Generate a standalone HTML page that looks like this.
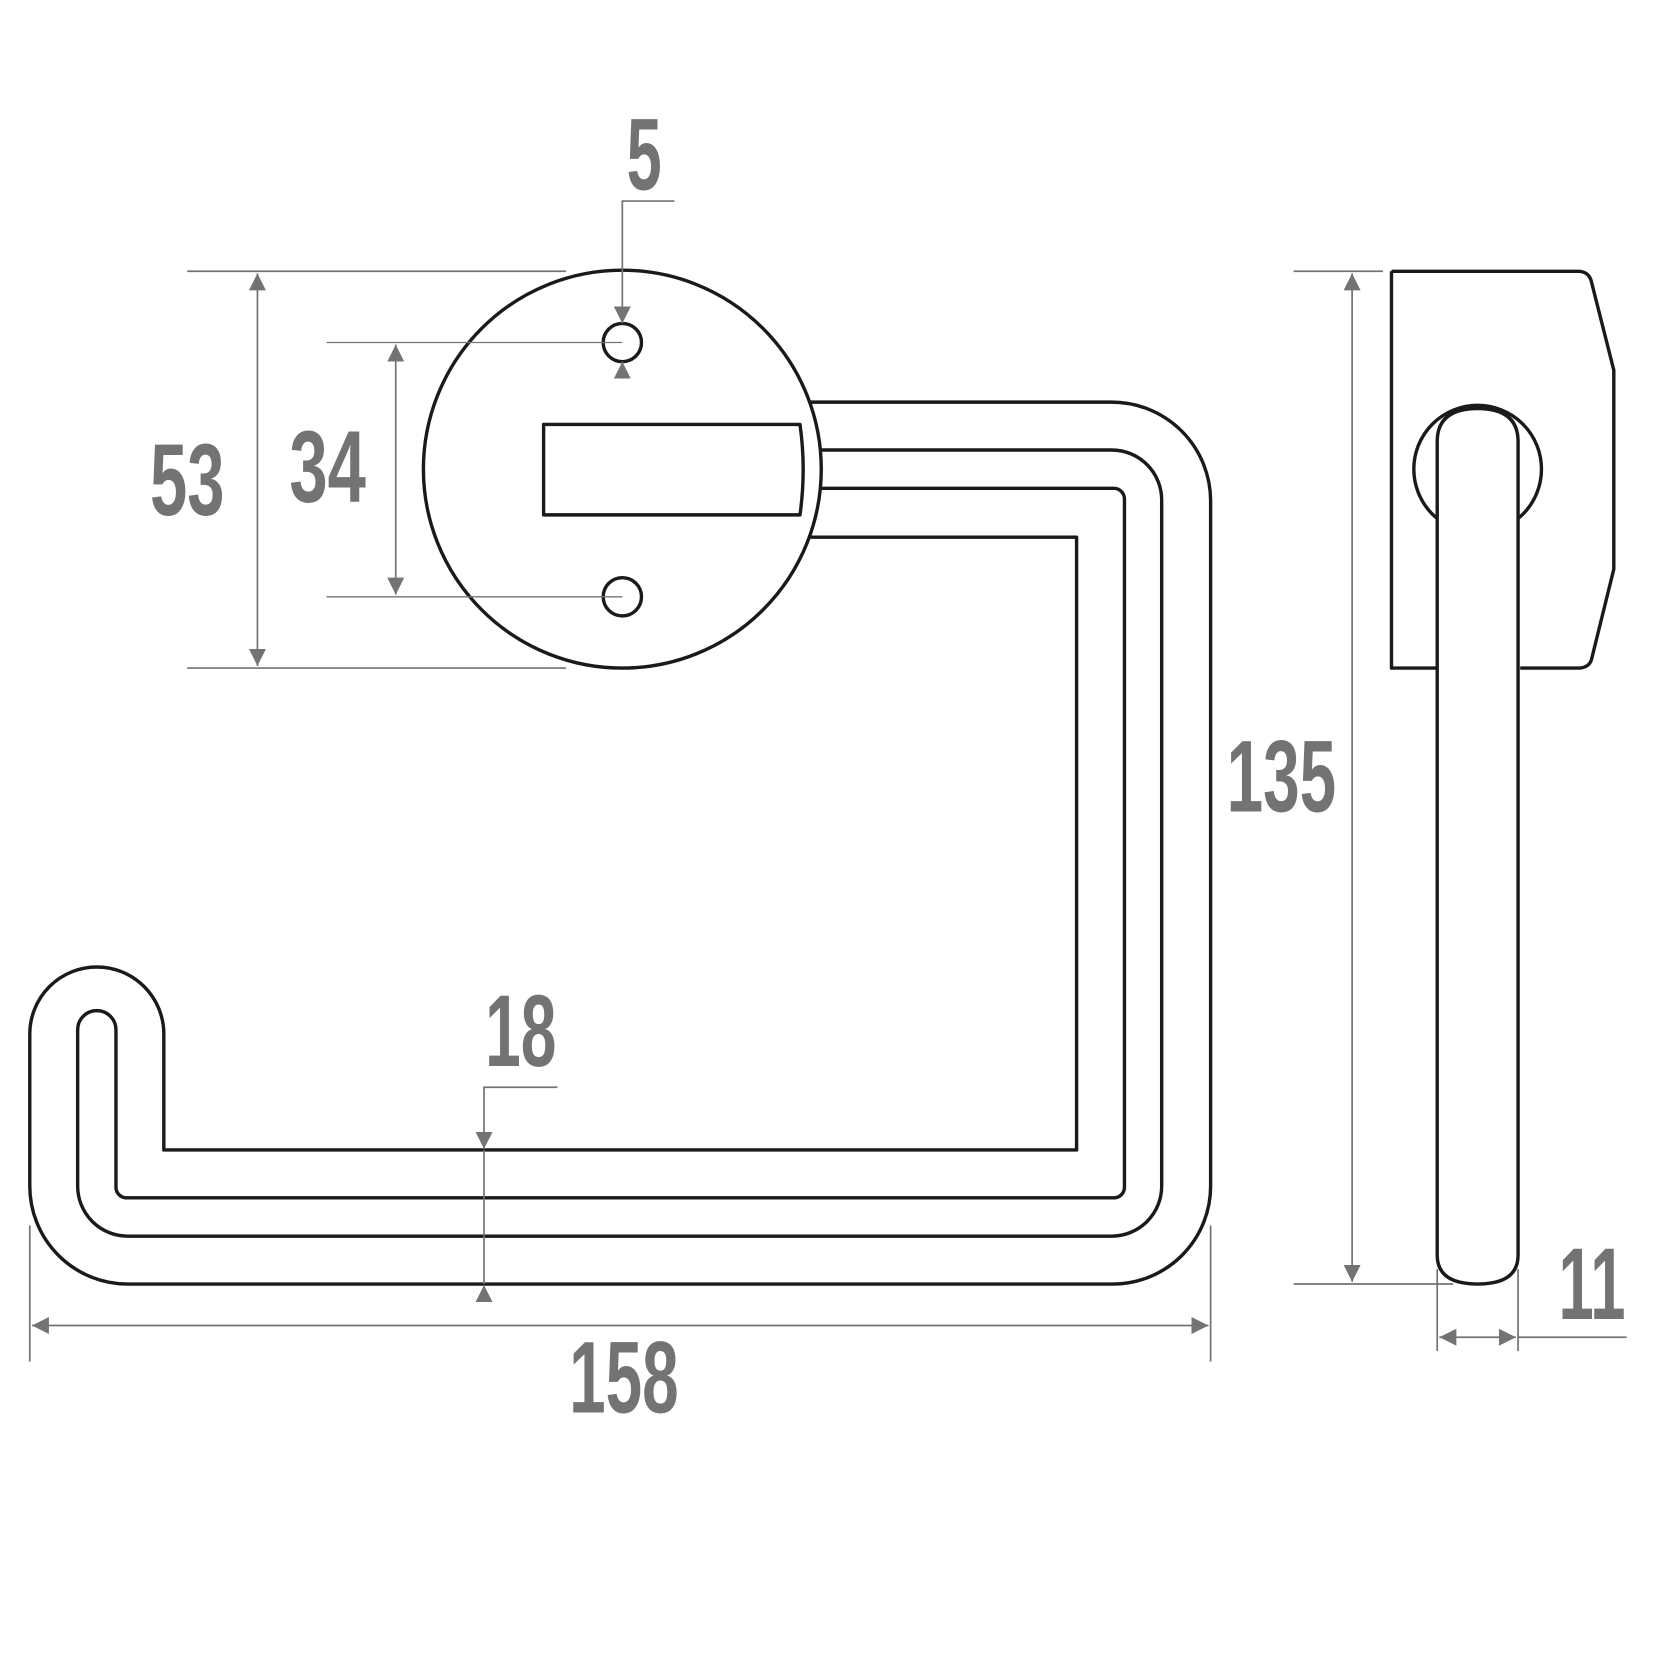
<!DOCTYPE html>
<html><head><meta charset="utf-8"><style>html,body{margin:0;padding:0;background:#fff}svg{display:block}</style></head>
<body>
<svg width="1667" height="1667" viewBox="0 0 1567 1567" xmlns="http://www.w3.org/2000/svg">
<defs>
<marker id="a" viewBox="0 0 10 10" refX="10" refY="5" markerWidth="16" markerHeight="16" markerUnits="userSpaceOnUse" orient="auto-start-reverse"><path d="M0,0 L10,5 L0,10 z" fill="#737373"/></marker>
</defs>
<g fill="none" stroke="#1a1a1a" stroke-width="3.2" stroke-linejoin="round">
<path d="M762,378 L1045,378 A93,93 0 0 1 1138,471 L1138,1115 A92,92 0 0 1 1046,1207 L120,1207 A92,92 0 0 1 28,1115 L28,972 A63,63 0 0 1 154,972 L154,1081 L1012,1081 L1012,505 L762,505"/>
<path d="M772,423 L1045,423 A47,47 0 0 1 1092,470 L1092,1115 A47,47 0 0 1 1045,1162 L120,1162 A47,47 0 0 1 73,1115 L73,968 A18,18 0 0 1 109,968 L109,1116 A10,10 0 0 0 119,1126 L1047,1126 A10,10 0 0 0 1057,1116 L1057,469 A10,10 0 0 0 1047,459 L772,459"/>
<circle cx="585" cy="441" r="187" fill="none"/>
<circle cx="585" cy="322" r="18"/>
<circle cx="585" cy="561" r="18"/>
<path d="M511,399 L752,399 Q758,441 752,484 L511,484 Z"/>
<path d="M1308,255 L1485,255 Q1494,256 1496,265 L1517,348 L1517,535 L1496,620 Q1494,627 1485,628 L1429,628 M1351,628 L1308,628 L1308,255"/>
<circle cx="1389" cy="441" r="60" fill="#fff"/>
<path d="M1351,415 Q1351,384 1389,384 Q1427,384 1427,415 L1427,1180 Q1427,1207 1389,1207 Q1351,1207 1351,1180 Z" fill="#fff"/>
</g>
<g stroke="#737373" stroke-width="1.6" fill="none">
<path d="M176,255 H532 M176,628 H532"/>
<path d="M242,257 V626" marker-start="url(#a)" marker-end="url(#a)"/>
<path d="M307,322 H585 M307,561 H585" stroke-width="1.2"/>
<path d="M372,324 V559" marker-start="url(#a)" marker-end="url(#a)"/>
<path d="M634,189 H585 V304" marker-end="url(#a)"/>
<path d="M585,356 V340" marker-end="url(#a)"/>
<path d="M1216,255 H1300 M1216,1207 H1366"/>
<path d="M1271,257 V1205" marker-start="url(#a)" marker-end="url(#a)"/>
<path d="M28,1152 V1280 M1138,1152 V1280"/>
<path d="M30,1246 H1136" marker-start="url(#a)" marker-end="url(#a)"/>
<path d="M524,1022 H455 V1080" marker-end="url(#a)"/>
<path d="M455,1081 V1207"/>
<path d="M455,1222 V1208" marker-end="url(#a)"/>
<path d="M1351,1193 V1270 M1427,1193 V1270"/>
<path d="M1353,1257 H1425" marker-start="url(#a)" marker-end="url(#a)"/>
<path d="M1427,1257 H1529"/>
</g>
<g fill="#737373" font-family="Liberation Sans, sans-serif" font-weight="bold" font-size="96">
<text x="589" y="178" textLength="33" lengthAdjust="spacingAndGlyphs">5</text>
<text x="141" y="484" textLength="70" lengthAdjust="spacingAndGlyphs">53</text>
<text x="272" y="472" textLength="72" lengthAdjust="spacingAndGlyphs">34</text>
<text x="1153" y="763" textLength="103" lengthAdjust="spacingAndGlyphs">135</text>
<text x="535" y="1328" textLength="103" lengthAdjust="spacingAndGlyphs">158</text>
<text x="456" y="1002" textLength="67" lengthAdjust="spacingAndGlyphs">18</text>
<text x="1465" y="1240" textLength="63" lengthAdjust="spacingAndGlyphs">11</text>
</g>
</svg>
</body></html>
